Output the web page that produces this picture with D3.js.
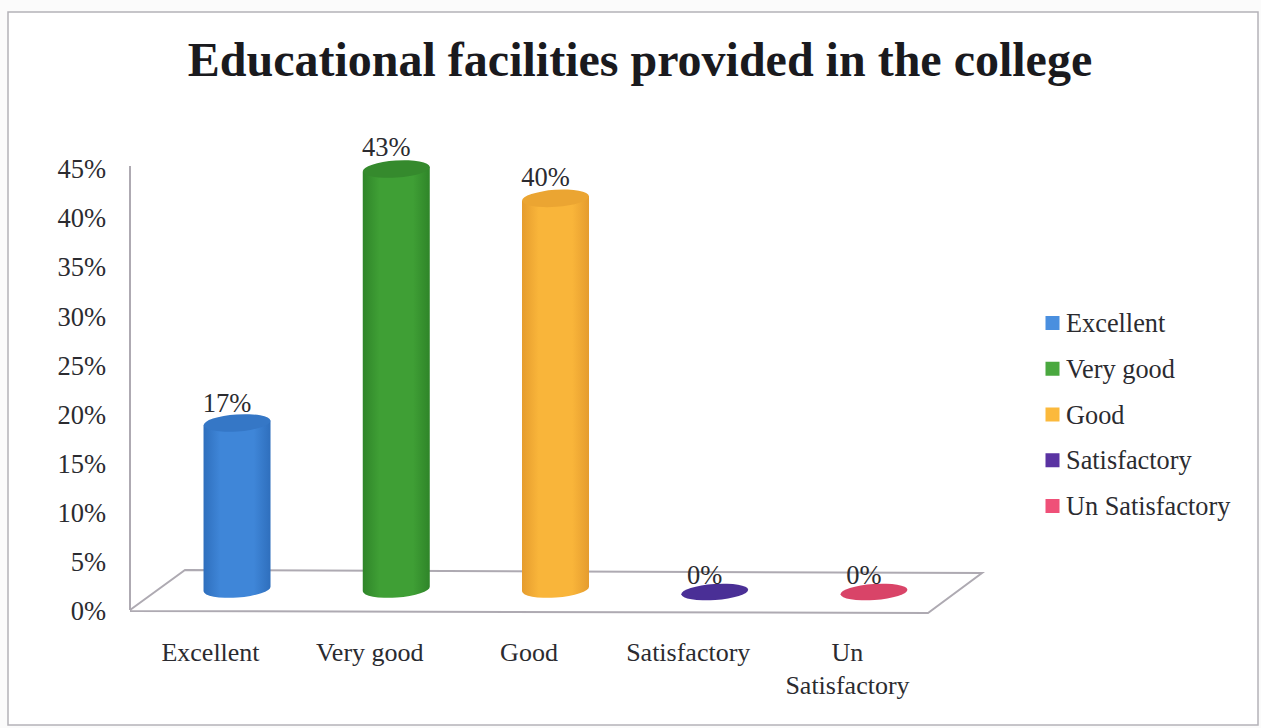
<!DOCTYPE html>
<html><head><meta charset="utf-8">
<script src="https://cdn.jsdelivr.net/npm/d3@7"></script>
<style>html,body{margin:0;padding:0;background:#fff}svg{display:block}text{font-family:"Liberation Serif",serif;fill:#2b2b30}</style>
</head><body><svg id="c" width="1261" height="728"></svg>
<script>
const categories=["Excellent","Very good","Good","Satisfactory","Un Satisfactory"];
const values=[17,43,40,0,0];
const valueLabels=["17%","43%","40%","0%","0%"];
const colors=["#3f86d8","#3f9f35","#f9b53a","#4a2f96","#d94468"];
const topColors=["#3577c6","#358a2d","#eba532","#4a2f96","#d94468"];
const darkColors=["#2f6fbd","#2f8529","#e59c2e","#3a2480","#c2305a"];
const legendColors=["#4a8fdf","#4aa83f","#fbb93c","#5a33a2","#ef5078"];
const tickValues=[0,5,10,15,20,25,30,35,40,45];

const svg=d3.select("#c");
svg.append("rect").attr("width",1261).attr("height",728).attr("fill","#fbfbfb");
svg.append("rect").attr("x",8).attr("y",12).attr("width",1250).attr("height",713).attr("fill","#ffffff").attr("stroke","#b4b2b8").attr("stroke-width",1.5);

svg.append("text").attr("x",640).attr("y",76).attr("text-anchor","middle").attr("font-size",48).attr("font-weight",700).style("fill","#1a1a1e").text("Educational facilities provided in the college");

const y=d3.scaleLinear().domain([0,45]).range([611,169]);
const yBar=d3.scaleLinear().domain([0,45]).range([589,149.5]);
const x=d3.scaleBand().domain(categories).range([157.4,953.6]);
const cx=c=>x(c)+x.bandwidth()/2;

const axisColor="#aeaab2";
const axis=d3.axisLeft(y).tickValues(tickValues).tickFormat(d=>d+"%").tickSize(0).tickPadding(24);
const gA=svg.append("g").attr("transform","translate(130,0)").call(axis);
gA.select(".domain").remove();
gA.selectAll("text").attr("font-size",26.5).attr("font-family","Liberation Serif").attr("dy","0.33em");
const floorPts=[[130,610],[185,570],[982,573],[928,613],[130,611]];
svg.append("path").attr("d",d3.line()(floorPts)).attr("fill","none").attr("stroke",axisColor).attr("stroke-width",2);
svg.append("line").attr("x1",130).attr("x2",130).attr("y1",166).attr("y2",610).attr("stroke",axisColor).attr("stroke-width",2);

const defs=svg.append("defs");
categories.forEach((c,i)=>{
  const g=defs.append("linearGradient").attr("id","g"+i);
  [[0,darkColors[i]],[.25,colors[i]],[.75,colors[i]],[1,darkColors[i]]].forEach(s=>g.append("stop").attr("offset",s[0]).attr("stop-color",s[1]));
});
const w=33.5, ry=8.5, tilt=-4;
const gB=svg.append("g");
categories.forEach((c,i)=>{
  const cxx=cx(c), top=yBar(values[i]), bot=yBar(0);
  const g=gB.append("g");
  if(values[i]>0){
    const s=Math.tan(-tilt*Math.PI/180)*w;
    const d=`M${cxx-w},${top+s}L${cxx-w},${bot+s}A${w},${ry} ${tilt} 0 0 ${cxx+w},${bot-s}L${cxx+w},${top-s}Z`;
    g.append("path").attr("d",d).attr("fill",`url(#g${i})`);
    g.append("ellipse").attr("cx",cxx).attr("cy",top).attr("rx",w).attr("ry",ry).attr("fill",topColors[i]).attr("transform",`rotate(${tilt} ${cxx} ${top})`);
  } else {
    g.append("ellipse").attr("cx",cxx).attr("cy",bot+3).attr("rx",w).attr("ry",ry-.5).attr("fill",colors[i]).attr("transform",`rotate(${tilt} ${cxx} ${bot+3})`);
  }
  svg.append("text").attr("x",cxx-10).attr("y",values[i]>0?top-9-values[i]*0.09:top-5.5).attr("text-anchor","middle").attr("font-size",26.5).text(valueLabels[i]);
});

const labelLines=[["Excellent"],["Very good"],["Good"],["Satisfactory"],["Un","Satisfactory"]];
categories.forEach((c,i)=>{
  const t=svg.append("text").attr("x",cx(c)-26.5).attr("y",661).attr("text-anchor","middle").attr("font-size",26);
  labelLines[i].forEach((l,j)=>t.append("tspan").attr("x",cx(c)-26.5).attr("dy",j?33:0).text(l));
});

const ly=d3.scalePoint().domain(categories).range([323,506]);
categories.forEach((c,i)=>{
  svg.append("rect").attr("x",1045.5).attr("y",ly(c)-7).attr("width",14).attr("height",14).attr("fill",legendColors[i]);
  svg.append("text").attr("x",1066).attr("y",ly(c)+9).attr("font-size",26.3).text(c);
});
</script></body></html>
